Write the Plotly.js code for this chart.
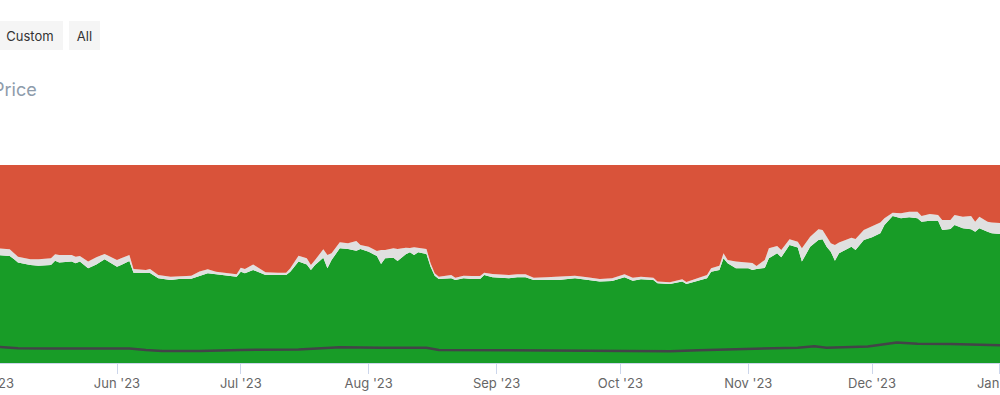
<!DOCTYPE html>
<html>
<head>
<meta charset="utf-8">
<script src="https://cdn.plot.ly/plotly-3.0.1.min.js"></script>
<style>
  html, body { margin: 0; padding: 0; width: 1000px; height: 395px; overflow: hidden; background: #ffffff; }
  #wrap { position: absolute; left: -50px; top: 0; width: 1100px; height: 395px; }
</style>
</head>
<body>
<div id="wrap"></div>
<script>
// ---- Data (percent shares) ----
const dates = [
  "2023-05-03","2023-05-06","2023-05-07","2023-05-08","2023-05-11","2023-05-13","2023-05-16","2023-05-17",
  "2023-05-18","2023-05-21","2023-05-22","2023-05-23","2023-05-25","2023-05-27","2023-05-29","2023-06-01",
  "2023-06-02","2023-06-04","2023-06-05","2023-06-08","2023-06-09","2023-06-11","2023-06-14","2023-06-16",
  "2023-06-19","2023-06-21","2023-06-23","2023-06-25","2023-06-28","2023-06-30","2023-07-01","2023-07-02",
  "2023-07-04","2023-07-06","2023-07-07","2023-07-10","2023-07-12","2023-07-13","2023-07-15","2023-07-17",
  "2023-07-18","2023-07-19","2023-07-21","2023-07-22","2023-07-23","2023-07-25","2023-07-27","2023-07-29",
  "2023-07-30","2023-08-01","2023-08-03","2023-08-04","2023-08-05","2023-08-07","2023-08-08","2023-08-10",
  "2023-08-11","2023-08-12","2023-08-13","2023-08-15","2023-08-16","2023-08-17","2023-08-18","2023-08-21",
  "2023-08-22","2023-08-24","2023-08-26","2023-08-28","2023-08-29","2023-08-31","2023-09-04","2023-09-06",
  "2023-09-08","2023-09-10","2023-09-13","2023-09-16","2023-09-20","2023-09-23","2023-09-26","2023-09-29",
  "2023-10-02","2023-10-04","2023-10-06","2023-10-09","2023-10-10","2023-10-13","2023-10-16","2023-10-17",
  "2023-10-20","2023-10-22","2023-10-23","2023-10-25","2023-10-26","2023-10-27","2023-10-29","2023-11-01",
  "2023-11-02","2023-11-03","2023-11-05","2023-11-06","2023-11-08","2023-11-09","2023-11-11","2023-11-13",
  "2023-11-14","2023-11-16","2023-11-18","2023-11-19","2023-11-20","2023-11-21","2023-11-22","2023-11-23",
  "2023-11-26","2023-11-27","2023-11-29","2023-12-01","2023-12-03","2023-12-04","2023-12-06","2023-12-08",
  "2023-12-10","2023-12-12","2023-12-13","2023-12-15","2023-12-17","2023-12-18","2023-12-20","2023-12-21",
  "2023-12-23","2023-12-25","2023-12-26","2023-12-27","2023-12-29","2023-12-30","2024-01-01","2024-01-02"
];
const greenShare = [
  54.5,54.0,52.5,50.7,49.5,49.1,49.5,51.7, 50.7,51.2,50.4,51.2,47.8,49.8,52.4,48.6,
  49.5,51.5,45.6,45.3,45.5,42.8,41.9,42.4, 42.6,43.9,45.3,44.8,44.1,43.6,46.1,45.3,
  47.0,45.3,44.4,44.4,44.4,46.1,51.2,49.8, 47.0,49.5,53.2,47.8,52.0,57.9,57.6,56.7,
  57.6,56.2,54.0,50.0,52.9,53.2,51.5,54.9, 55.9,54.5,55.9,55.1,48.6,44.1,42.4,42.8,
  41.9,42.8,42.4,42.4,44.4,43.3,42.8,43.3, 43.3,41.9,41.9,41.9,42.8,41.9,41.1,41.4,
  43.3,41.6,42.3,41.9,40.3,39.9,41.1,39.9, 41.6,42.8,46.1,47.0,52.9,50.4,47.8,47.8,
  47.0,47.5,48.0,52.9,55.4,53.4,59.6,58.3, 51.2,58.7,62.1,62.5,58.7,56.2,51.7,55.4,
  58.7,57.1,62.1,63.5,65.5,69.7,74.2,73.1, 73.6,73.1,71.4,71.9,71.9,67.2,67.7,69.7,
  68.0,67.5,66.3,68.0,66.3,65.5,65.2,65.2
];
const greyShare = [
  3.4,3.4,3.1,3.0,2.9,3.3,3.4,3.2, 3.8,3.3,3.3,2.8,3.4,3.6,2.7,3.4,
  3.4,3.0,1.9,1.7,2.0,1.6,1.7,1.5, 1.5,2.3,2.0,1.3,1.3,1.2,2.0,2.2,
  2.8,1.7,1.4,1.2,1.2,1.7,3.0,3.1, 2.5,2.5,4.2,6.7,3.4,3.1,2.9,4.9,
  2.0,2.5,2.6,7.1,4.2,4.7,6.1,3.3, 2.2,3.9,2.2,2.5,1.8,1.2,1.2,1.6,
  1.2,1.3,1.5,1.5,1.2,1.6,1.6,1.5, 1.5,1.2,1.4,1.7,1.3,1.4,1.3,1.4,
  1.5,1.5,1.3,1.2,0.8,0.9,1.2,1.0, 1.2,1.6,1.7,2.1,2.5,1.6,3.4,2.9,
  3.5,1.5,4.0,5.0,3.7,3.7,2.9,3.0, 6.7,5.1,5.4,4.7,4.8,4.3,7.9,5.4,
  4.6,5.5,5.1,5.7,5.4,3.4,1.7,2.5, 2.8,3.3,2.8,3.4,2.8,5.0,4.5,5.0,
  5.9,6.7,5.1,5.9,5.1,5.4,5.4,5.4
];
const redShare = [
  42.1,42.6,44.4,46.3,47.6,47.6,47.1,45.1, 45.5,45.5,46.3,46.0,48.8,46.6,44.9,48.0,
  47.1,45.5,52.5,53.0,52.5,55.6,56.4,56.1, 55.9,53.8,52.7,53.9,54.6,55.2,51.9,52.5,
  50.2,53.0,54.2,54.4,54.4,52.2,45.8,47.1, 50.5,48.0,42.6,45.5,44.6,39.0,39.5,38.4,
  40.4,41.3,43.4,42.9,42.9,42.1,42.4,41.8, 41.9,41.6,41.9,42.4,49.6,54.7,56.4,55.6,
  56.9,55.9,56.1,56.1,54.4,55.1,55.6,55.2, 55.2,56.9,56.7,56.4,55.9,56.7,57.6,57.2,
  55.2,56.9,56.4,56.9,58.9,59.2,57.7,59.1, 57.2,55.6,52.2,50.9,44.6,48.0,48.8,49.3,
  49.5,51.0,48.0,42.1,40.9,42.9,37.5,38.7, 42.1,36.2,32.5,32.8,36.5,39.5,40.4,39.2,
  36.7,37.4,32.8,30.8,29.1,26.9,24.1,24.4, 23.6,23.6,25.8,24.7,25.3,27.8,27.8,25.3,
  26.1,25.8,28.6,26.1,28.6,29.1,29.4,29.4
];
// Price line (drawn on the same 0-100 scale)
const priceDates = [
  "2023-05-03","2023-05-08","2023-05-16","2023-05-26","2023-06-04","2023-06-08","2023-06-12","2023-06-21",
  "2023-07-01","2023-07-15","2023-07-25","2023-08-04","2023-08-15","2023-08-18","2023-09-02","2023-09-16",
  "2023-10-01","2023-10-13","2023-10-20","2023-11-01","2023-11-13","2023-11-17","2023-11-20","2023-11-30",
  "2023-12-04","2023-12-07","2023-12-12","2023-12-20","2024-01-01","2024-01-02"
];
const priceValues = [
  8.2,7.5,7.3,7.3,7.3,6.6,6.1,6.1,
  6.6,6.8,7.9,7.7,7.7,6.6,6.4,6.2,
  6.2,5.9,6.5,7.1,7.7,8.4,7.7,8.3,
  9.3,10.3,9.7,9.6,9.0,9.0
];
const buttonLabels = ["Custom", "All"];
const chartLabel = "Price";

// ---- Styling ----
const GREEN = "#189c27", GREY = "#e0e0e0", RED = "#d9533a", LINE = "#434348";
const FONT = "Inter, 'Noto Sans', sans-serif";

const traces = [
  { x: dates, y: greenShare, name: "Green", type: "scatter", mode: "lines",
    stackgroup: "s", groupnorm: "percent", line: { width: 0, color: GREEN }, fillcolor: GREEN, hoverinfo: "skip" },
  { x: dates, y: greyShare, name: "Grey", type: "scatter", mode: "lines",
    stackgroup: "s", line: { width: 0, color: GREY }, fillcolor: GREY, hoverinfo: "skip" },
  { x: dates, y: redShare, name: "Red", type: "scatter", mode: "lines",
    stackgroup: "s", line: { width: 0, color: RED }, fillcolor: RED, hoverinfo: "skip" },
  { x: priceDates, y: priceValues, name: "Price", type: "scatter", mode: "lines",
    line: { width: 2.5, color: LINE }, hoverinfo: "skip" }
];

const W = 1100, H = 395, T = 165, B = 32;
const plotH = H - T - B;
// convert a viewport pixel (page is shifted 50px left) to paper coords
const px = (vx) => (vx + 50) / W;
const py = (vy) => (H - B - vy) / plotH;

const layout = {
  width: W, height: H,
  margin: { l: 0, r: 0, t: T, b: B, pad: 0 },
  paper_bgcolor: "#ffffff", plot_bgcolor: "#ffffff",
  showlegend: false,
  font: { family: FONT, size: 13, color: "#666666" },
  xaxis: {
    type: "date",
    range: ["2023-04-21 12:36", "2024-01-13 03:07"],
    tick0: "2023-05-01", dtick: "M1", tickformat: "%b '%y",
    ticks: "outside", ticklen: 10, tickwidth: 1, tickcolor: "#ccd6eb",
    ticklabelstandoff: -2,
    showline: true, linecolor: "#ccd6eb", linewidth: 1,
    showgrid: false, zeroline: false, fixedrange: true,
    tickfont: { family: FONT, size: 13, color: "#666666" }
  },
  yaxis: {
    range: [0, 100], visible: false, showgrid: false, zeroline: false, fixedrange: true
  },
  annotations: [
    { xref: "paper", yref: "paper", x: px(30), y: py(35), xanchor: "center", yanchor: "middle",
      text: buttonLabels[0], showarrow: false, width: 66, height: 29, bgcolor: "#f5f5f5",
      borderpad: 0, borderwidth: 0, font: { family: FONT, size: 13, color: "#333333" } },
    { xref: "paper", yref: "paper", x: px(84.5), y: py(35), xanchor: "center", yanchor: "middle",
      text: buttonLabels[1], showarrow: false, width: 31, height: 29, bgcolor: "#f5f5f5",
      borderpad: 0, borderwidth: 0, font: { family: FONT, size: 13, color: "#333333" } },
    { xref: "paper", yref: "paper", x: px(39), y: py(89), xanchor: "right", yanchor: "middle",
      text: chartLabel, showarrow: false, font: { family: FONT, size: 18, color: "#8e9cab" } }
  ]
};

Plotly.newPlot("wrap", traces, layout, { staticPlot: true, displayModeBar: false });
</script>
</body>
</html>
